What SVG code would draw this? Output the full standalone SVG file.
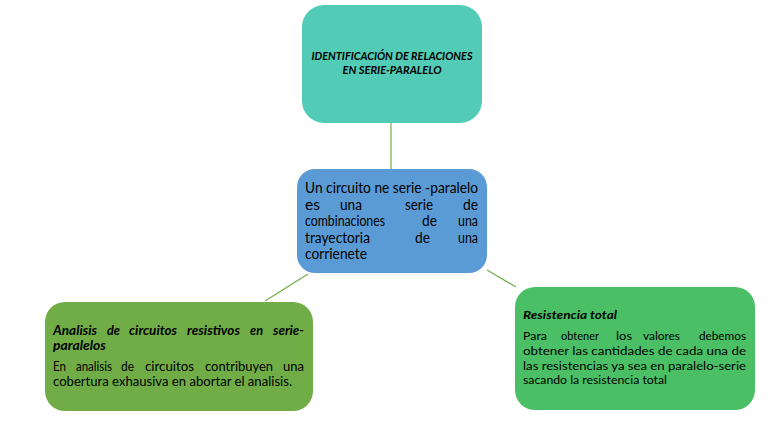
<svg xmlns="http://www.w3.org/2000/svg" width="770" height="427" viewBox="0 0 770 427">
<style>
.t{font-family:Lato,"Liberation Sans",Arial,sans-serif;fill:#000}
.bi{font-weight:bold;font-style:italic}
.c{font-size:14.5px}
.l{font-size:13px}
.r{font-size:12px}
.conn{stroke:#70AD47;stroke-width:1.2;fill:none}
</style>
<rect width="770" height="427" fill="#fff"/>
<g id="connectors">
<line class="conn" x1="391" y1="123" x2="391" y2="169"/>
<line class="conn" x1="308" y1="274" x2="265" y2="301"/>
<line class="conn" x1="487" y1="270" x2="516" y2="287"/>
</g>
<g id="node-title">
<rect x="302" y="5" width="180" height="118" rx="22" fill="#52CBB7"/>
<text class="t bi" font-size="11.5" x="392" y="60" text-anchor="middle" textLength="161" lengthAdjust="spacingAndGlyphs">IDENTIFICACIÓN DE RELACIONES</text>
<text class="t bi" font-size="11.5" x="392" y="74" text-anchor="middle" textLength="99" lengthAdjust="spacingAndGlyphs">EN SERIE-PARALELO</text>
</g>
<g id="node-center">
<rect x="297" y="169" width="190" height="104" rx="18" fill="#5B9BD5"/>
<text class="t c" x="305" y="193" textLength="173" lengthAdjust="spacingAndGlyphs">Un circuito ne serie -paralelo</text>
<text class="t c" x="305" y="210" textLength="15" lengthAdjust="spacingAndGlyphs">es</text>
<text class="t c" x="340" y="210" textLength="22" lengthAdjust="spacingAndGlyphs">una</text>
<text class="t c" x="405" y="210" textLength="28" lengthAdjust="spacingAndGlyphs">serie</text>
<text class="t c" x="463" y="210" textLength="15" lengthAdjust="spacingAndGlyphs">de</text>
<text class="t c" x="305" y="226" textLength="80" lengthAdjust="spacingAndGlyphs">combinaciones</text>
<text class="t c" x="422" y="226" textLength="15" lengthAdjust="spacingAndGlyphs">de</text>
<text class="t c" x="458" y="226" textLength="20" lengthAdjust="spacingAndGlyphs">una</text>
<text class="t c" x="305" y="243" textLength="65" lengthAdjust="spacingAndGlyphs">trayectoria</text>
<text class="t c" x="415" y="243" textLength="15" lengthAdjust="spacingAndGlyphs">de</text>
<text class="t c" x="458" y="243" textLength="20" lengthAdjust="spacingAndGlyphs">una</text>
<text class="t c" x="305" y="259" textLength="62" lengthAdjust="spacingAndGlyphs">corrienete</text>
</g>
<g id="node-left">
<rect x="45" y="302" width="268" height="109" rx="20" fill="#70AD47"/>
<text class="t l bi" x="53" y="335" textLength="44" lengthAdjust="spacingAndGlyphs">Analisis</text>
<text class="t l bi" x="107" y="335" textLength="13" lengthAdjust="spacingAndGlyphs">de</text>
<text class="t l bi" x="129" y="335" textLength="48" lengthAdjust="spacingAndGlyphs">circuitos</text>
<text class="t l bi" x="187" y="335" textLength="53" lengthAdjust="spacingAndGlyphs">resistivos</text>
<text class="t l bi" x="250" y="335" textLength="13" lengthAdjust="spacingAndGlyphs">en</text>
<text class="t l bi" x="273" y="335" textLength="31" lengthAdjust="spacingAndGlyphs">serie-</text>
<text class="t l bi" x="53" y="350" textLength="53" lengthAdjust="spacingAndGlyphs">paralelos</text>
<text class="t l" x="53" y="371" textLength="13" lengthAdjust="spacingAndGlyphs">En</text>
<text class="t l" x="76" y="371" textLength="36" lengthAdjust="spacingAndGlyphs">analisis</text>
<text class="t l" x="121" y="371" textLength="13" lengthAdjust="spacingAndGlyphs">de</text>
<text class="t l" x="145" y="371" textLength="49" lengthAdjust="spacingAndGlyphs">circuitos</text>
<text class="t l" x="205" y="371" textLength="68" lengthAdjust="spacingAndGlyphs">contribuyen</text>
<text class="t l" x="283" y="371" textLength="21" lengthAdjust="spacingAndGlyphs">una</text>
<text class="t l" x="53" y="386" textLength="239" lengthAdjust="spacingAndGlyphs">cobertura exhausiva en abortar el analisis.</text>
</g>
<g id="node-right">
<rect x="515" y="287" width="240" height="123" rx="20" fill="#4BBF66"/>
<text class="t r bi" x="523" y="319" textLength="94" lengthAdjust="spacingAndGlyphs">Resistencia  total</text>
<text class="t r" x="523" y="340" textLength="24" lengthAdjust="spacingAndGlyphs">Para</text>
<text class="t r" x="561" y="340" textLength="38" lengthAdjust="spacingAndGlyphs">obtener</text>
<text class="t r" x="616" y="340" textLength="16" lengthAdjust="spacingAndGlyphs">los</text>
<text class="t r" x="643" y="340" textLength="37" lengthAdjust="spacingAndGlyphs">valores</text>
<text class="t r" x="699" y="340" textLength="47" lengthAdjust="spacingAndGlyphs">debemos</text>
<text class="t r" x="523" y="355" textLength="223" lengthAdjust="spacingAndGlyphs">obtener las  cantidades  de cada una de</text>
<text class="t r" x="523" y="370" textLength="223" lengthAdjust="spacingAndGlyphs">las resistencias ya sea en paralelo-serie</text>
<text class="t r" x="523" y="384" textLength="144" lengthAdjust="spacingAndGlyphs">sacando la resistencia total</text>
</g>
</svg>
